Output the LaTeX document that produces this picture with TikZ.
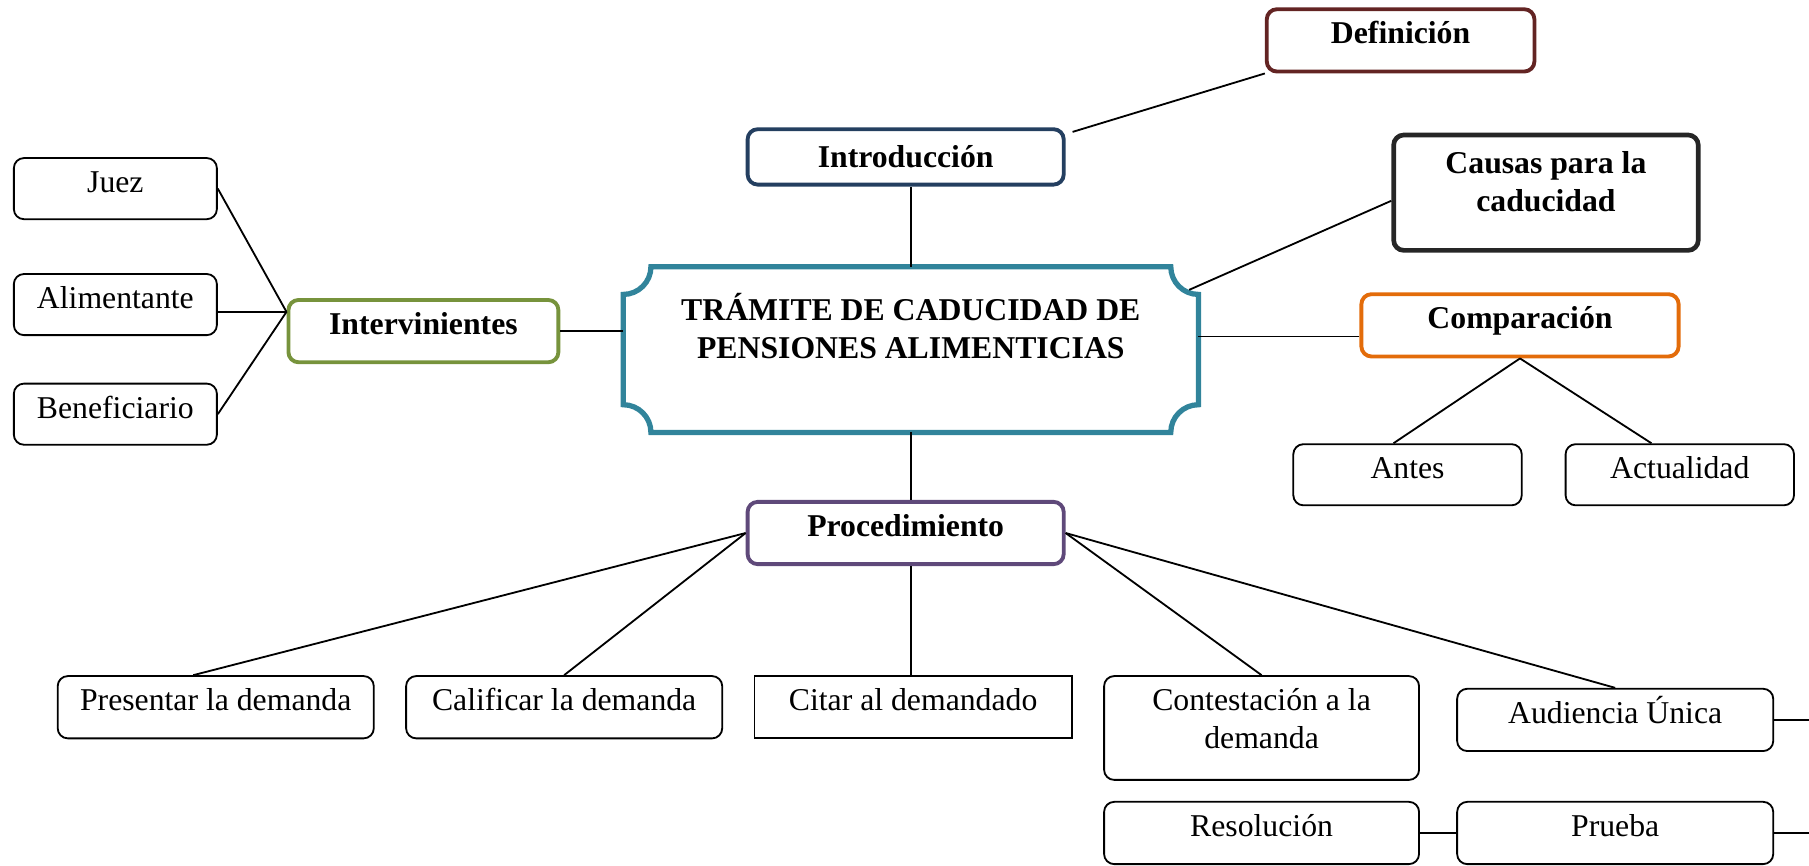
\documentclass[tikz,border=0pt]{standalone}
\usepackage{fontspec}
\setmainfont{Liberation Serif}
\definecolor{defred}{HTML}{632423}
\definecolor{intronavy}{HTML}{243F60}
\definecolor{causagray}{HTML}{262626}
\definecolor{comporange}{HTML}{E36C0A}
\definecolor{intgreen}{HTML}{77933C}
\definecolor{procpurple}{HTML}{5F497A}
\definecolor{mainteal}{HTML}{31849B}
\newcommand{\mapsize}{\fontsize{15.65pt}{18.8pt}\selectfont}

\begin{document}
\begin{tikzpicture}[x=0.2cm,y=0.2cm,line width=0.9pt]
            \tikzstyle{every node}+=[inner sep=0pt, align=flush center, font=\mapsize]
            \tikzstyle{leaf}=[draw=black, line width=0.9pt, rounded corners=5pt]
            \tikzstyle{hub}=[line width=1.9pt, rounded corners=5pt, font=\mapsize\bfseries]
            \tikzstyle{oneline}=[text height=0.6cm, text depth=0.48cm]
            \tikzstyle{wide}=[text width=5.48cm]
            \useasboundingbox (0,0) rectangle (156.8,-75);
            \node [hub, draw=defred, text width=4.64cm, oneline] (def) at (121.4,-3.5) {Definición};
            \node [hub, draw=intronavy, wide, text height=0.66cm, text depth=0.3cm] (intro) at (78.5,-13.6) {Introducción};
            \node [hub, draw=causagray, line width=2.3pt, text width=5.28cm, text height=0.66cm, text depth=1.34cm] (causas) at (134,-16.7) {Causas para la\\caducidad};
            \node [hub, draw=comporange, text width=5.5cm, oneline] (comp) at (131.75,-28.2) {Comparación};
            \node [leaf, text width=3.96cm, text height=0.6cm, text depth=0.46cm] (antes) at (122,-41.15) {Antes};
            \node [leaf, text width=3.96cm, text height=0.6cm, text depth=0.46cm] (actual) at (145.6,-41.15) {Actualidad};
            \node [font=\mapsize\bfseries, text width=9.94cm, text height=0.92cm, text depth=1.92cm] (main) at (78.95,-30.3) {TRÁMITE DE CADUCIDAD DE\\PENSIONES ALIMENTICIAS};
            \draw [mainteal, line width=2.6pt] ([xshift=0.48cm]main.north west) -- ([xshift=-0.48cm]main.north east) arc (180:270:0.48cm) -- ([yshift=0.48cm]main.south east) arc (90:180:0.48cm) -- ([xshift=0.48cm]main.south west) arc (0:90:0.48cm) -- ([yshift=-0.48cm]main.north west) arc (270:360:0.48cm) -- cycle;
            \node [hub, draw=intgreen, text width=4.68cm, oneline] (interv) at (36.7,-28.7) {Intervinientes};
            \node [leaf, text width=3.52cm, text height=0.6cm, text depth=0.46cm] (juez) at (10,-16.35) {Juez};
            \node [leaf, text width=3.52cm, text height=0.6cm, text depth=0.46cm] (alim) at (10,-26.4) {Alimentante};
            \node [leaf, text width=3.52cm, text height=0.6cm, text depth=0.46cm] (benef) at (10,-35.9) {Beneficiario};
            \node [hub, draw=procpurple, wide, oneline] (proc) at (78.5,-46.2) {Procedimiento};
            \node [leaf, wide, oneline] (pres) at (18.7,-61.3) {Presentar la demanda};
            \node [leaf, wide, oneline] (calif) at (48.9,-61.3) {Calificar la demanda};
            \node [draw=black, text width=5.5cm, oneline] (citar) at (79.15,-61.3) {Citar al demandado};
            \node [leaf, text width=5.46cm, text height=0.6cm, text depth=1.2cm] (contest) at (109.35,-63.1) {Contestación a la\\demanda};
            \node [leaf, wide, oneline] (aud) at (140,-62.4) {Audiencia Única};
            \node [leaf, text width=5.46cm, oneline] (resol) at (109.35,-72.2) {Resolución};
            \node [leaf, wide, oneline] (prueba) at (140,-72.2) {Prueba};
            \coordinate (mc) at ([xshift=-0.16cm,yshift=-0.4cm]main.north east);
            \coordinate (ic) at ([xshift=0.12cm,yshift=-0.08cm]intro.north east);
            \coordinate (ij) at (interv.172);
            \coordinate (rim) at (156.8,0);
            \draw [black] (def.south west) -- (ic);
            \draw [black] (main.north) -- (main.north |- intro.south);
            \draw [black] (causas.183) -- (mc);
            \draw [black] (comp.184) -- (comp.184 -| main.east);
            \draw [black] (comp.south) -- (antes.114);
            \draw [black] (comp.south) -- (actual.132);
            \draw [black] (juez.east) -- (ij);
            \draw [black] (ij -| alim.east) -- (ij);
            \draw [black] (benef.east) -- (ij);
            \draw [black] (interv.east) -- (interv.east -| main.west);
            \draw [black] (main.south) -- (main.south |- proc.north);
            \draw [black] (proc.west) -- (pres.125);
            \draw [black] (proc.west) -- (calif.north);
            \draw [black] (main.south |- proc.south) -- (main.south |- citar.north);
            \draw [black] (proc.east) -- (contest.north);
            \draw [black] (proc.east) -- (aud.north);
            \draw [black] (resol.east) -- (prueba.west);
            \draw [black] (aud.east) -- (aud.east -| rim);
            \draw [black] (prueba.east) -- (prueba.east -| rim);
        \end{tikzpicture}
\end{document}
